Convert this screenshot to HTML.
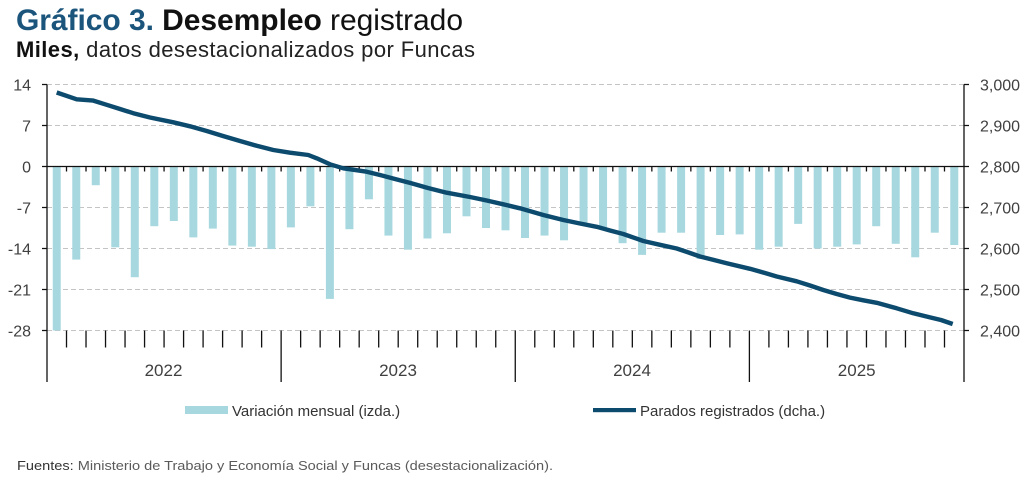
<!DOCTYPE html>
<html>
<head>
<meta charset="utf-8">
<style>
  html, body { margin: 0; padding: 0; background: #fff; }
  svg { display: block; }
  text { font-family: "Liberation Sans", Arial, sans-serif; }
</style>
</head>
<body>
<svg width="1024" height="482" viewBox="0 0 1024 482" xmlns="http://www.w3.org/2000/svg">
  <rect width="1024" height="482" fill="#ffffff"/>

  <text x="16" y="30" font-size="30" textLength="447" lengthAdjust="spacing"><tspan font-weight="bold" fill="#1b557c">Gráfico 3.</tspan><tspan font-weight="bold" fill="#111"> Desempleo</tspan><tspan fill="#111"> registrado</tspan></text>
  <text x="16" y="57" font-size="22" textLength="459" lengthAdjust="spacing"><tspan font-weight="bold" fill="#111">Miles,</tspan><tspan fill="#222"> datos desestacionalizados por Funcas</tspan></text>

  <g stroke="#c4c4c4" stroke-width="1" stroke-dasharray="5 3" fill="none">
    <path d="M47 84.5H964"/>
    <path d="M47 125.5H964"/>
    <path d="M47 207.5H964"/>
    <path d="M47 248.5H964"/>
    <path d="M47 289.5H964"/>
    <path d="M47 330.5H964"/>
  </g>

  <g fill="#a8d8df">
    <rect x="52.75" y="166.5" width="8" height="164.0"/>
    <rect x="72.26" y="166.5" width="8" height="93.1"/>
    <rect x="91.77" y="166.5" width="8" height="18.7"/>
    <rect x="111.28" y="166.5" width="8" height="80.8"/>
    <rect x="130.79" y="166.5" width="8" height="110.7"/>
    <rect x="150.31" y="166.5" width="8" height="59.7"/>
    <rect x="169.82" y="166.5" width="8" height="54.5"/>
    <rect x="189.33" y="166.5" width="8" height="70.9"/>
    <rect x="208.84" y="166.5" width="8" height="62.1"/>
    <rect x="228.35" y="166.5" width="8" height="79.1"/>
    <rect x="247.86" y="166.5" width="8" height="80.2"/>
    <rect x="267.37" y="166.5" width="8" height="82.6"/>
    <rect x="286.88" y="166.5" width="8" height="60.9"/>
    <rect x="306.39" y="166.5" width="8" height="39.8"/>
    <rect x="325.90" y="166.5" width="8" height="132.4"/>
    <rect x="345.42" y="166.5" width="8" height="62.7"/>
    <rect x="364.93" y="166.5" width="8" height="32.8"/>
    <rect x="384.44" y="166.5" width="8" height="69.1"/>
    <rect x="403.95" y="166.5" width="8" height="83.2"/>
    <rect x="423.46" y="166.5" width="8" height="72.0"/>
    <rect x="442.97" y="166.5" width="8" height="66.8"/>
    <rect x="462.48" y="166.5" width="8" height="49.8"/>
    <rect x="481.99" y="166.5" width="8" height="61.5"/>
    <rect x="501.50" y="166.5" width="8" height="63.8"/>
    <rect x="521.01" y="166.5" width="8" height="71.5"/>
    <rect x="540.53" y="166.5" width="8" height="69.1"/>
    <rect x="560.04" y="166.5" width="8" height="73.8"/>
    <rect x="579.55" y="166.5" width="8" height="56.2"/>
    <rect x="599.06" y="166.5" width="8" height="61.5"/>
    <rect x="618.57" y="166.5" width="8" height="76.7"/>
    <rect x="638.08" y="166.5" width="8" height="88.4"/>
    <rect x="657.59" y="166.5" width="8" height="66.2"/>
    <rect x="677.10" y="166.5" width="8" height="66.2"/>
    <rect x="696.61" y="166.5" width="8" height="92.5"/>
    <rect x="716.12" y="166.5" width="8" height="68.5"/>
    <rect x="735.64" y="166.5" width="8" height="67.9"/>
    <rect x="755.15" y="166.5" width="8" height="83.2"/>
    <rect x="774.66" y="166.5" width="8" height="80.2"/>
    <rect x="794.17" y="166.5" width="8" height="57.4"/>
    <rect x="813.68" y="166.5" width="8" height="82.0"/>
    <rect x="833.19" y="166.5" width="8" height="80.2"/>
    <rect x="852.70" y="166.5" width="8" height="77.9"/>
    <rect x="872.21" y="166.5" width="8" height="59.7"/>
    <rect x="891.72" y="166.5" width="8" height="77.3"/>
    <rect x="911.23" y="166.5" width="8" height="90.8"/>
    <rect x="930.75" y="166.5" width="8" height="66.2"/>
    <rect x="950.26" y="166.5" width="8" height="78.5"/>
  </g>

  <path d="M47 166.5H964" stroke="#111" stroke-width="1.3" fill="none"/>

  <path stroke="#111" stroke-width="1.3" fill="none" d="M66.51 166.5v5 M86.02 166.5v5 M105.53 166.5v5 M125.04 166.5v5 M144.56 166.5v5 M164.07 166.5v5 M183.58 166.5v5 M203.09 166.5v5 M222.60 166.5v5 M242.11 166.5v5 M261.62 166.5v5 M281.13 166.5v5 M300.64 166.5v5 M320.15 166.5v5 M339.67 166.5v5 M359.18 166.5v5 M378.69 166.5v5 M398.20 166.5v5 M417.71 166.5v5 M437.22 166.5v5 M456.73 166.5v5 M476.24 166.5v5 M495.75 166.5v5 M515.26 166.5v5 M534.78 166.5v5 M554.29 166.5v5 M573.80 166.5v5 M593.31 166.5v5 M612.82 166.5v5 M632.33 166.5v5 M651.84 166.5v5 M671.35 166.5v5 M690.86 166.5v5 M710.37 166.5v5 M729.88 166.5v5 M749.40 166.5v5 M768.91 166.5v5 M788.42 166.5v5 M807.93 166.5v5 M827.44 166.5v5 M846.95 166.5v5 M866.46 166.5v5 M885.97 166.5v5 M905.48 166.5v5 M924.99 166.5v5 M944.50 166.5v5"/>

  <path stroke="#111" stroke-width="1.3" fill="none" d="M66.51 330.5v17 M86.02 330.5v17 M105.53 330.5v17 M125.04 330.5v17 M144.56 330.5v17 M164.07 330.5v17 M183.58 330.5v17 M203.09 330.5v17 M222.60 330.5v17 M242.11 330.5v17 M261.62 330.5v17 M300.64 330.5v17 M320.15 330.5v17 M339.67 330.5v17 M359.18 330.5v17 M378.69 330.5v17 M398.20 330.5v17 M417.71 330.5v17 M437.22 330.5v17 M456.73 330.5v17 M476.24 330.5v17 M495.75 330.5v17 M534.78 330.5v17 M554.29 330.5v17 M573.80 330.5v17 M593.31 330.5v17 M612.82 330.5v17 M632.33 330.5v17 M651.84 330.5v17 M671.35 330.5v17 M690.86 330.5v17 M710.37 330.5v17 M729.88 330.5v17 M768.91 330.5v17 M788.42 330.5v17 M807.93 330.5v17 M827.44 330.5v17 M846.95 330.5v17 M866.46 330.5v17 M885.97 330.5v17 M905.48 330.5v17 M924.99 330.5v17 M944.50 330.5v17 M281.13 330.5V382 M515.26 330.5V382 M749.40 330.5V382"/>

  <path d="M47 84.5V382 M964 84.5V382" stroke="#111" stroke-width="1.3" fill="none"/>
  <path stroke="#111" stroke-width="1.3" fill="none" d="M42 84.5H47 M42 125.5H47 M42 166.5H47 M42 207.5H47 M42 248.5H47 M42 289.5H47 M42 330.5H47 M964 84.5H969 M964 125.5H969 M964 166.5H969 M964 207.5H969 M964 248.5H969 M964 289.5H969 M964 330.5H969"/>

  <path fill="none" stroke="#0c4a6e" stroke-width="4.4" stroke-linejoin="round" d="M56.7 92.5 L76.7 99.3 L93.3 100.6 L106.7 104.8 L120 109 L133.3 113.2 L150 117.5 L173.3 122.3 L190 126.3 L206.7 131 L223 136 L240 141 L256.7 145.8 L273.3 150 L290 152.7 L308.3 155 L316.7 158.3 L330 164.3 L343.3 168.3 L366.7 171.7 L380 175 L395 179 L410 182.9 L428 188 L446.7 192.7 L470 197 L486.7 200.5 L503.3 204.3 L520 208.3 L543.3 215 L563.3 220 L580 223.5 L596.7 226.8 L610 230.5 L623.3 234 L643.3 241 L660 244.8 L676.7 248.5 L690 253 L700 256.5 L713 259.8 L726.7 263.3 L750 268.8 L765 273 L776.7 276.5 L796.7 281.3 L810 285.5 L823.3 290 L836.7 294 L850 297.6 L863.3 300.3 L876.7 302.8 L896.7 308.3 L913.3 313.3 L930 317.4 L941 320 L952.7 324"/>

  <g font-size="16" fill="#404040" text-anchor="end">
    <text x="31" y="90.3">14</text>
    <text x="31" y="131.3">7</text>
    <text x="31" y="172.3">0</text>
    <text x="31" y="213.3">-7</text>
    <text x="31" y="254.3">-14</text>
    <text x="31" y="295.3">-21</text>
    <text x="31" y="336.3">-28</text>
  </g>

  <g font-size="16" fill="#404040">
    <text x="980" y="90.3">3,000</text>
    <text x="980" y="131.3">2,900</text>
    <text x="980" y="172.3">2,800</text>
    <text x="980" y="213.3">2,700</text>
    <text x="980" y="254.3">2,600</text>
    <text x="980" y="295.3">2,500</text>
    <text x="980" y="336.3">2,400</text>
  </g>

  <g font-size="17" fill="#404040" text-anchor="middle">
    <text x="163.5" y="376">2022</text>
    <text x="398" y="376">2023</text>
    <text x="632" y="376">2024</text>
    <text x="856.7" y="376">2025</text>
  </g>

  <rect x="185" y="406" width="43" height="8" fill="#a8d8df"/>
  <text x="232" y="416" font-size="15" fill="#333">Variación mensual (izda.)</text>
  <rect x="593" y="408" width="43" height="4.2" fill="#0c4a6e"/>
  <text x="640" y="416" font-size="15" fill="#333">Parados registrados (dcha.)</text>

  <text x="17" y="470" font-size="13" textLength="536" lengthAdjust="spacingAndGlyphs"><tspan fill="#333">Fuentes:</tspan><tspan fill="#5a5a5a"> Ministerio de Trabajo y Economía Social y Funcas (desestacionalización).</tspan></text>
</svg>
</body>
</html>
